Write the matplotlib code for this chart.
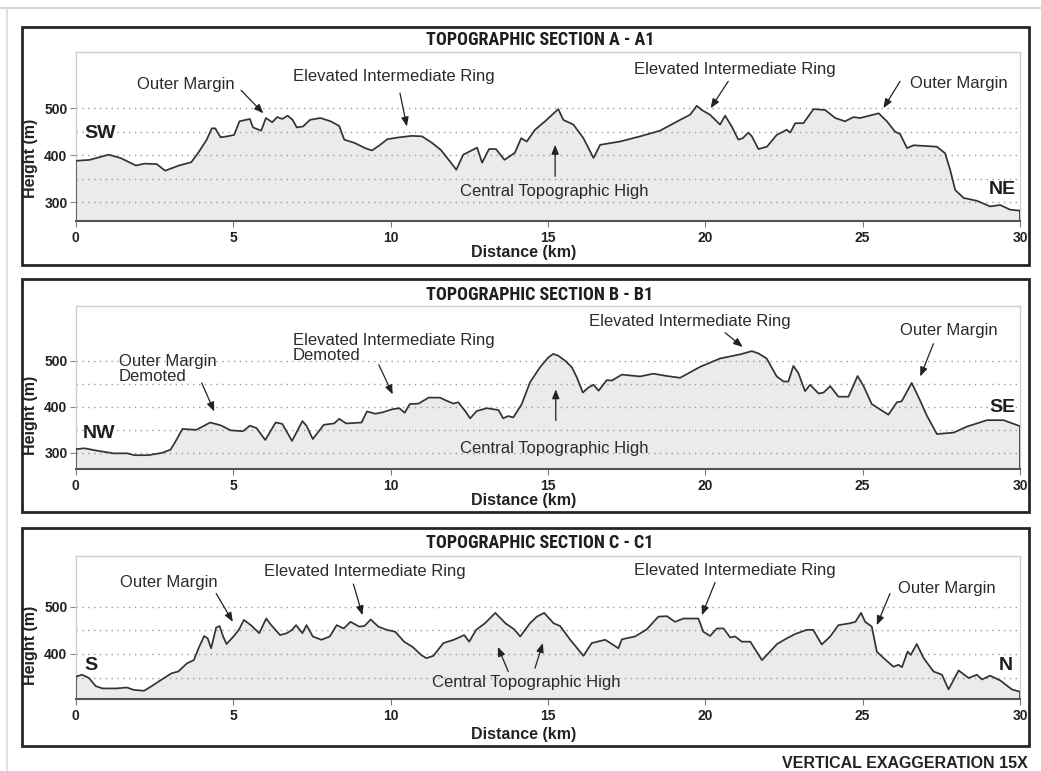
import numpy as np
import matplotlib
matplotlib.use('Agg')
import matplotlib.pyplot as plt
from matplotlib.patches import Rectangle
from matplotlib.lines import Line2D
from matplotlib import font_manager

# ---------------- data ----------------
A_km = [0, 0.44, 1.04, 1.42, 1.91, 2.19, 2.57, 2.84, 3.28, 3.67, 3.88, 4.16, 4.32, 4.43, 4.6, 4.81,
        5.03, 5.2, 5.53, 5.63, 5.89, 6.04, 6.24, 6.4, 6.56, 6.73, 6.89, 7.02, 7.22, 7.44, 7.77, 8.1,
        8.37, 8.53, 8.86, 9.19, 9.41, 9.63, 9.9, 10.28, 10.67, 11.0, 11.32, 11.6, 11.93, 12.09, 12.31,
        12.75, 12.91, 13.13, 13.35, 13.62, 13.95,
        14.15, 14.33, 14.59, 14.91, 15.33, 15.49, 15.81, 16.13, 16.45, 16.66, 17.29, 17.93, 18.56,
        19.2, 19.52, 19.73, 19.89, 20.15, 20.47, 20.63, 20.84, 21.05, 21.19, 21.37, 21.48, 21.69,
        21.96, 22.27, 22.59, 22.7, 22.86, 23.12, 23.44, 23.81, 24.13, 24.44, 24.71, 24.92, 25.51,
        25.77, 26.03, 26.19, 26.41, 26.62, 27.36, 27.62, 27.78, 27.94, 28.21, 28.63, 29.05, 29.37,
        29.69, 30.0]
A_h = [388, 390, 401, 394, 378, 382, 381, 367, 378, 385, 404, 433, 457, 457, 438, 440,
       443, 472, 477, 459, 452, 479, 470, 481, 477, 484, 475, 459, 461, 475, 479, 472,
       462, 433, 426, 415, 410, 420, 434, 438, 441, 440, 426, 411, 383, 369, 401,
       416, 384, 413, 413, 390, 405,
       436, 429, 454, 472, 498, 475, 465, 436, 394, 422, 429, 440, 452,
       475, 486, 505, 496, 486, 465, 484, 461, 433, 436, 448, 440, 413,
       418, 443, 454, 448, 468, 468, 498, 496, 479, 472, 481, 479, 489,
       472, 450, 445, 415, 421, 418, 404, 369, 326, 309, 303, 291, 294,
       284, 282]

B_km = [0, 0.27, 0.66, 1.2, 1.64, 1.86, 2.3, 2.74, 3.01, 3.17, 3.39, 3.83, 4.27, 4.6, 4.92, 5.31,
        5.53, 5.74, 6.02, 6.35, 6.56, 6.87, 7.2, 7.33, 7.53, 7.88, 8.21, 8.37, 8.59, 8.86, 9.08,
        9.25, 9.52, 9.74, 10.07, 10.28, 10.45, 10.61, 10.89, 11.21,
        11.57, 11.79, 12.0, 12.15, 12.37, 12.53, 12.74, 13.06, 13.43, 13.58, 13.74, 13.9, 14.17,
        14.43, 14.75, 15.01, 15.17, 15.33, 15.55, 15.76, 15.92, 16.11, 16.29, 16.45, 16.61, 16.87,
        17.03, 17.35, 17.93,
        18.35, 18.78, 19.2, 19.84, 20.47, 21.11, 21.48, 21.69, 21.95, 22.27, 22.49, 22.64, 22.8,
        22.96, 23.17, 23.33, 23.6, 23.76, 23.97, 24.23, 24.55, 24.84, 25.03, 25.29, 25.61, 25.82,
        26.09, 26.24, 26.56, 26.83, 27.04, 27.36, 27.89, 28.31, 28.95, 29.48, 30.0]
B_h = [308, 310, 305, 299, 299, 295, 295, 300, 307, 325, 352, 350, 366, 360, 349, 347,
       359, 354, 328, 366, 363, 326, 369, 359, 330, 361, 364, 374, 364, 365, 366,
       390, 385, 388, 395, 397, 387, 406, 407, 420,
       420, 413, 407, 410, 391, 375, 391, 397, 393, 375, 380, 377, 406,
       453, 486, 507, 515, 511, 500, 486, 464, 431, 442, 448, 435, 458,
       457, 470, 466,
       472, 467, 463, 487, 505, 514, 521, 516, 505, 466, 455, 455, 489,
       473, 434, 448, 429, 431, 445, 422, 422, 467, 445, 406, 392, 383,
       410, 412, 452, 413, 381, 341, 344, 357, 371, 371, 358]

C_km = [0, 0.2, 0.42, 0.63, 0.85, 1.29, 1.62, 1.84, 2.17, 2.39, 2.71, 3.04, 3.26, 3.53, 3.75, 3.92,
        4.08, 4.19, 4.3, 4.46, 4.57, 4.68, 4.79, 5.01, 5.18, 5.34, 5.56, 5.83, 6.05, 6.21, 6.49,
        6.71, 6.87, 7.0, 7.2, 7.33, 7.53, 7.8, 8.07, 8.29, 8.51, 8.73, 9.0, 9.17, 9.37, 9.61, 9.88,
        10.15, 10.43, 10.7, 10.97, 11.14, 11.36, 11.68, 12.01, 12.34, 12.5, 12.72, 13.0, 13.33,
        13.65, 13.93,
        14.12, 14.43, 14.65, 14.88, 15.18, 15.39, 15.71, 16.13, 16.39, 16.82, 17.08, 17.24, 17.35,
        17.77, 18.14, 18.51, 18.78, 19.04, 19.31, 19.78, 19.94, 20.15, 20.37, 20.58, 20.79, 20.95,
        21.16, 21.43, 21.8, 21.96, 22.28, 22.59, 22.85, 23.22, 23.43, 23.7, 23.97, 24.23, 24.6,
        24.77, 24.95, 25.08, 25.29, 25.45, 25.67, 25.98, 26.14, 26.25, 26.43, 26.53, 26.72, 26.94,
        27.25, 27.52, 27.73, 28.05, 28.37, 28.63, 28.79, 29.05, 29.37, 29.74, 30.0]
C_h = [352, 356, 349, 332, 327, 327, 329, 324, 322, 331, 345, 359, 363, 380, 387, 415,
       438, 433, 412, 456, 459, 437, 421, 437, 451, 472, 461, 444, 475, 461, 440,
       444, 451, 461, 444, 461, 437, 430, 437, 461, 454, 468, 458, 459, 473, 458, 451,
       447, 426, 415, 398, 391, 396, 423, 430, 440, 426, 451, 465, 487,
       465, 452,
       437, 465, 479, 487, 465, 459, 430, 396, 423, 430, 419, 412, 431,
       437, 452, 479, 480, 468, 475, 475, 447, 438, 454, 454, 435, 437,
       426, 426, 387, 398, 421, 433, 442, 451, 451, 420, 437, 461, 465,
       468, 487, 468, 458, 405, 391, 373, 377, 372, 405, 398, 421, 391,
       363, 356, 325, 365, 349, 356, 346, 354, 344, 325, 320]

x_ticks = [0, 5, 10, 15, 20, 25, 30]
titles = ["TOPOGRAPHIC SECTION A - A1", "TOPOGRAPHIC SECTION B - B1", "TOPOGRAPHIC SECTION C - C1"]
ends = [("SW", "NE"), ("NW", "SE"), ("S", "N")]
ylims = [(260, 620), (265, 619), (304, 608)]
yticks = [[300, 400, 500], [300, 400, 500], [400, 500]]
grids = [[300, 350, 400, 450, 500], [300, 350, 400, 450, 500], [350, 400, 450, 500]]
end_pos = [((0.27, 447), (29.87, 326)), ((0.22, 342), (29.85, 399)), ((0.28, 375), (29.77, 375))]

A_texts = [("Outer Margin", 3.5, 550, 'center'),
           ("Elevated Intermediate Ring", 10.09, 567, 'center'),
           ("Central Topographic High", 15.2, 323, 'center'),
           ("Elevated Intermediate Ring", 20.95, 582, 'center'),
           ("Outer Margin", 28.05, 553, 'center')]
A_arrows = [((5.25, 538), (5.96, 489)), ((10.3, 532), (10.52, 461)), ((15.23, 355), (15.23, 422)),
            ((20.73, 557), (20.17, 500)), ((26.19, 557), (25.66, 500))]
B_texts = [("Outer Margin\nDemoted", 1.37, 482, 'left'),
           ("Elevated Intermediate Ring\nDemoted", 6.89, 528, 'left'),
           ("Central Topographic High", 15.2, 310, 'center'),
           ("Elevated Intermediate Ring", 19.52, 586, 'center'),
           ("Outer Margin", 27.73, 565, 'center')]
B_arrows = [((4.0, 452), (4.4, 390)), ((9.63, 491), (10.07, 427)), ((15.25, 370), (15.25, 438)),
            ((20.63, 561), (21.19, 530)), ((27.25, 537), (26.83, 466))]
C_texts = [("Outer Margin", 2.95, 551, 'center'),
           ("Elevated Intermediate Ring", 9.19, 574, 'center'),
           ("Central Topographic High", 14.31, 340, 'center'),
           ("Elevated Intermediate Ring", 20.95, 577, 'center'),
           ("Outer Margin", 27.67, 539, 'center')]
C_arrows = [((4.46, 528), (4.99, 468)), ((8.82, 548), (9.11, 482)), ((13.74, 363), (13.41, 415)),
            ((14.59, 370), (14.84, 423)), ((20.31, 551), (19.89, 482)), ((25.87, 528), (25.45, 461))]

# ---------------- layout (pixels) ----------------
W, H = 1041, 771
fig = plt.figure(figsize=(W / 100, H / 100), dpi=100)
fig.patch.set_facecolor('white')


def fx(px):
    return px / W


def fy(py):
    return 1 - py / H


SANS = ['Liberation Sans', 'DejaVu Sans']
plt.rcParams['font.family'] = SANS

# pick a condensed bold face for the titles if one is installed
installed = {f.name for f in font_manager.fontManager.ttflist}
title_family, title_size = SANS, 11.3
for cand, size in [('Liberation Sans Narrow', 13), ('Roboto Condensed', 13),
                   ('DejaVu Sans Condensed', 12), ('Open Sans Condensed', 13)]:
    if cand in installed:
        title_family, title_size = [cand] + SANS, size
        break

AX_L, AX_R = 75.8, 1020
layout = [  # ax_top, ax_bot, box_top, box_bot, title_y, xlabel_y, ylabel_y
    (51.7, 221, 26.7, 265, 40, 253, 158),
    (306, 469, 279, 511.7, 295, 501, 415),
    (555.7, 699.3, 528.3, 746, 543, 735, 645),
]

data = [(A_km, A_h, A_texts, A_arrows), (B_km, B_h, B_texts, B_arrows), (C_km, C_h, C_texts, C_arrows)]

# screenshot frame lines
fig.add_artist(Line2D([0, 1], [fy(8), fy(8)], transform=fig.transFigure, color='#d6d6d6', lw=1.5))
fig.add_artist(Line2D([fx(7), fx(7)], [fy(8), 0], transform=fig.transFigure, color='#dcdcdc', lw=1.2))

TXT = '#2b2b2b'
for i, (km, h, texts, arrows) in enumerate(data):
    at, ab, bt, bb, ty, xly, yly = layout[i]
    ax = fig.add_axes([fx(AX_L), fy(ab), fx(AX_R) - fx(AX_L), (ab - at) / H])
    y0, y1 = ylims[i]
    km = np.asarray(km, float)
    h = np.asarray(h, float)
    ax.fill_between(km, h, y0, color='#ebebeb', lw=0, zorder=1)
    for g in grids[i]:
        ax.axhline(g, color='#9a9a9a', lw=1.0, ls=(0, (1, 3.2)), zorder=2)
    ax.plot(np.r_[km[0], km, km[-1]], np.r_[y0, h, y0], color='#333333', lw=1.25, zorder=3,
            solid_joinstyle='round')
    ax.set_xlim(0, 30)
    ax.set_ylim(y0, y1)
    ax.set_xticks(x_ticks)
    ax.set_yticks(yticks[i])
    ax.tick_params(axis='y', length=4, width=0.8, color='#888888', pad=2, labelsize=10,
                   labelcolor='#222222')
    ax.tick_params(axis='x', length=4, width=0.8, color='#777777', pad=3, labelsize=10,
                   labelcolor='#222222')
    for lab in ax.get_xticklabels() + ax.get_yticklabels():
        lab.set_fontweight('bold')
    for s in ['top', 'right', 'left']:
        ax.spines[s].set_color('#cfcfcf')
        ax.spines[s].set_linewidth(1.0)
    ax.spines['bottom'].set_color('#555555')
    ax.spines['bottom'].set_linewidth(1.5)
    ax.spines['bottom'].set_zorder(4)

    for txt, x, y, ha in texts:
        ax.text(x, y, txt, ha=ha, va='center', fontsize=12, color=TXT, linespacing=1.0,
                zorder=5)
    for tail, head in arrows:
        ax.annotate('', xy=head, xytext=tail,
                    arrowprops=dict(arrowstyle='-|>,head_length=0.55,head_width=0.22',
                                    color='#222222', lw=0.9, shrinkA=0, shrinkB=0),
                    zorder=5)
    (lx, lyv), (rx, ryv) = end_pos[i]
    ax.text(lx, lyv, ends[i][0], ha='left', va='center', fontsize=14, fontweight='bold',
            color='#1e1e1e', zorder=5)
    ax.text(rx, ryv, ends[i][1], ha='right', va='center', fontsize=14, fontweight='bold',
            color='#1e1e1e', zorder=5)

    # outer box
    fig.add_artist(Rectangle((fx(22), fy(bb)), fx(1029) - fx(22), (bb - bt) / H,
                             transform=fig.transFigure, fill=False, lw=2.0, ec='#262626'))
    fig.text(fx(540), fy(ty), titles[i], ha='center', va='center', fontsize=title_size,
             fontweight='bold', family=title_family, color='#1e1e1e')
    fig.text(fx(524), fy(xly), "Distance (km)", ha='center', va='center', fontsize=11.5,
             fontweight='bold', color='#222222')
    fig.text(fx(31), fy(yly), "Height (m)", ha='center', va='center', rotation=90,
             fontsize=11.5, fontweight='bold', color='#222222')

fig.text(fx(1028), fy(764), "VERTICAL EXAGGERATION 15X", ha='right', va='center',
         fontsize=11.5, fontweight='bold', color='#222222')

fig.savefig('out.png', dpi=100)
